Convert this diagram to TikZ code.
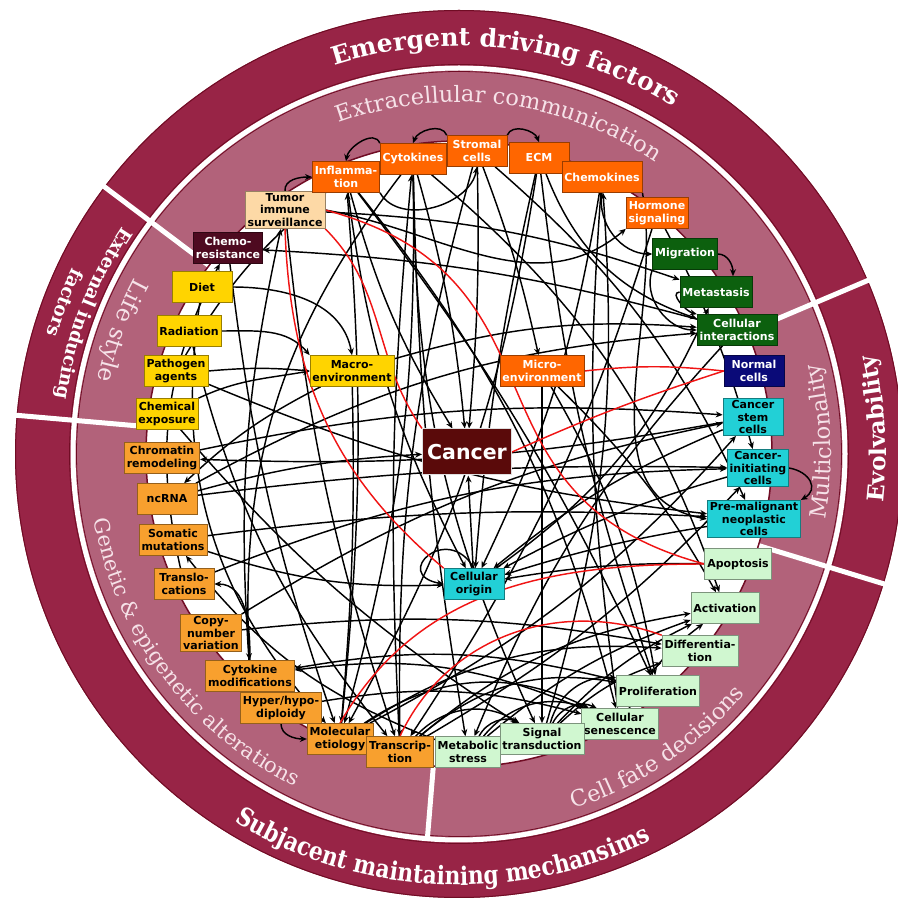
\documentclass[tikz,border=0pt]{standalone}
\usepackage{fontspec}
\setmainfont{DejaVu Serif}
\newfontfamily\condserif{DejaVu Serif}[FakeStretch=0.85]
\newfontfamily\boxfont{DejaVu Sans}
\usetikzlibrary{arrows.meta,decorations.text}
\definecolor{ringdark}{RGB}{152,36,70}
\definecolor{ringlight}{RGB}{178,98,122}
\definecolor{ringedge}{RGB}{112,12,36}
\definecolor{ringtext}{RGB}{246,226,232}
\definecolor{cOrange}{RGB}{255,102,0}
\definecolor{cPeach}{RGB}{253,217,166}
\definecolor{cMaroon}{RGB}{78,10,32}
\definecolor{cYellow}{RGB}{255,212,0}
\definecolor{cAmber}{RGB}{248,160,46}
\definecolor{cMint}{RGB}{208,247,208}
\definecolor{cCyan}{RGB}{34,208,214}
\definecolor{cNavy}{RGB}{10,10,120}
\definecolor{cGreen}{RGB}{12,96,14}
\definecolor{cCancer}{RGB}{90,10,10}
\definecolor{redline}{RGB}{240,20,20}
\pgfdeclarelayer{bg}
\pgfdeclarelayer{edges}
\pgfsetlayers{bg,edges,main}
\begin{document}
\begin{tikzpicture}[x=1pt,y=1pt,
  box/.style={draw=#1!60!black, line width=0.6pt, fill=#1, inner xsep=2.5pt, inner ysep=2pt,
    minimum width=60pt, minimum height=31pt, align=center,
    font=\boxfont\bfseries\fontsize{11}{12.5}\selectfont},
  orng/.style={box=cOrange, text=white},
  peach/.style={box=cPeach, text=black},
  maroon/.style={box=cMaroon, text=white},
  yel/.style={box=cYellow, text=black},
  amb/.style={box=cAmber, text=black},
  mint/.style={box=cMint, text=black},
  cyn/.style={box=cCyan, text=black},
  navy/.style={box=cNavy, text=white},
  grn/.style={box=cGreen, text=white},
  e/.style={draw=black, line width=1.45pt, -{Stealth[length=7pt,width=6pt]}},
  inh/.style={draw=redline, line width=1.45pt},
  arctext/.style={decorate, decoration={text along path, text align=center, text={#1}}}
]
\coordinate (C) at (459,444);
\begin{pgfonlayer}{bg}
\clip (0,0) rectangle (898,898);
\fill[white] (0,0) rectangle (898,898);
\fill[ringdark] (C) circle[radius=444pt];
\draw[ringedge, line width=1pt] (C) circle[radius=443.5pt];
\fill[ringlight] (C) circle[radius=386pt];
\draw[white, line width=5pt] (C) circle[radius=386pt];
\draw[ringedge, line width=0.8pt] (C) circle[radius=382.5pt];
\draw[ringedge, line width=0.8pt] (C) circle[radius=389.5pt];
\fill[white] (C) circle[radius=313pt];
\draw[ringedge, line width=1.5pt] (C) circle[radius=313pt];
\foreach \a in {143,175,23,-17}
  \draw[white, line width=5pt] ([shift={(\a:314pt)}]C) -- ([shift={(\a:452pt)}]C);
\draw[white, line width=5pt] ([shift={(-94.7:314pt)}]C) -- ([shift={(-94.7:386pt)}]C);
% ring texts
\path[arctext={|\color{white}\fontsize{25}{30}\selectfont\bfseries|Emergent driving factors}]
  ([shift={(140:408pt)}]C) arc[start angle=140, end angle=26, radius=408pt];
\path[arctext={|\color{ringtext}\fontsize{22.5}{26}\selectfont|Extracellular communication}]
  ([shift={(140:352pt)}]C) arc[start angle=140, end angle=26, radius=352pt];
\path[arctext={|\color{white}\fontsize{18.5}{22}\selectfont\bfseries|External inducing}]
  ([shift={(130:406pt)}]C) arc[start angle=130, end angle=188, radius=406pt];
\path[arctext={|\color{white}\fontsize{18.5}{22}\selectfont\bfseries|factors}]
  ([shift={(130:429pt)}]C) arc[start angle=130, end angle=188, radius=429pt];
\path[arctext={|\color{ringtext}\fontsize{23.5}{28}\selectfont|Life style}]
  ([shift={(120:369pt)}]C) arc[start angle=120, end angle=200, radius=369pt];
\path[arctext={|\color{ringtext}\fontsize{21}{25}\selectfont|Genetic {\&} epigenetic alterations}]
  ([shift={(170:371pt)}]C) arc[start angle=170, end angle=264, radius=371pt];
\path[arctext={|\color{ringtext}\fontsize{22.5}{26}\selectfont|Cell fate decisions}]
  ([shift={(270:373pt)}]C) arc[start angle=270, end angle=338, radius=373pt];
\path[arctext={|\color{ringtext}\fontsize{22.5}{26}\selectfont|Multiclonality}]
  ([shift={(-40:372pt)}]C) arc[start angle=-40, end angle=44, radius=372pt];
\path[arctext={|\color{white}\fontsize{23}{28}\selectfont\bfseries|Evolvability}]
  ([shift={(-40:427pt)}]C) arc[start angle=-40, end angle=47, radius=427pt];
\path[arctext={|\color{white}\condserif\fontsize{25.5}{30}\selectfont\bfseries|Subjacent maintaining mechansims}]
  ([shift={(210:431pt)}]C) arc[start angle=210, end angle=325, radius=431pt];
\end{pgfonlayer}

% nodes
\node[peach] (tis) at (285,688) {Tumor\\immune\\surveillance};
\node[maroon] (crs) at (228,650) {Chemo-\\resistance};
\node[orng] (inf) at (346,721) {Inflamma-\\tion};
\node[orng] (cyt) at (413,739) {Cytokines};
\node[orng] (str) at (477,747) {Stromal\\cells};
\node[orng] (ecm) at (539,740) {ECM};
\node[orng] (che) at (602,721) {Chemokines};
\node[orng] (hor) at (657,685) {Hormone\\signaling};
\node[grn] (mig) at (685,644) {Migration};
\node[grn] (met) at (716,606) {Metastasis};
\node[grn] (cei) at (737,568) {Cellular\\interactions};
\node[navy] (nor) at (754,527) {Normal\\cells};
\node[cyn] (csc) at (753,481) {Cancer\\stem\\cells};
\node[cyn] (cic) at (758,430) {Cancer-\\initiating\\cells};
\node[cyn] (pre) at (754,379) {Pre-malignant\\neoplastic\\cells};
\node[mint] (apo) at (738,334) {Apoptosis};
\node[mint] (act) at (725,290) {Activation};
\node[mint] (dif) at (700,247) {Differentia-\\tion};
\node[mint] (pro) at (658,207) {Proliferation};
\node[mint] (sen) at (620,174) {Cellular\\senescence};
\node[mint] (sig) at (542,159) {Signal\\transduction};
\node[amb] (hyp) at (281,190) {Hyper/hypo-\\diploidy};
\node[amb] (mol) at (340,159) {Molecular\\etiology};
\node[amb] (tra) at (400,146) {Transcrip-\\tion};
\node[mint] (mst) at (468,146) {Metabolic\\stress};
\node[amb] (cmo) at (250,222) {Cytokine\\modifications};
\node[amb] (cnv) at (211,265) {Copy-\\number\\variation};
\node[amb] (trl) at (184,314) {Translo-\\cations};
\node[amb] (som) at (173,358) {Somatic\\mutations};
\node[amb] (ncr) at (167,399) {ncRNA};
\node[amb] (chr) at (162,440) {Chromatin\\remodeling};
\node[yel] (cex) at (167,484) {Chemical\\exposure};
\node[yel] (pat) at (176,527) {Pathogen\\agents};
\node[yel] (rad) at (189,567) {Radiation};
\node[yel] (die) at (202,611) {Diet};
\node[yel] (mac) at (352,527) {Macro-\\environment};
\node[orng] (mic) at (542,527) {Micro-\\environment};
\node[cyn] (cor) at (474,314) {Cellular\\origin};
\node[draw=white!75!gray, line width=1pt, fill=cCancer, text=white,
  font=\boxfont\bfseries\fontsize{20.5}{24}\selectfont,
  minimum width=89pt, minimum height=46pt] (can) at (467,446) {Cancer};

\begin{pgfonlayer}{edges}
% rim loops
\draw[e] (tis.north) to[out=95,in=180] (inf.west);
\draw[e] (cyt.north west) to[out=110,in=80] (inf.north);
\draw[e] (str.north west) to[out=110,in=70] (cyt.north);
\draw[e] (str.north east) to[out=70,in=110] (ecm.north);
\draw[e] (mig.east) to[out=0,in=90] ([xshift=17pt]met.north);
\draw[e] (cic.east) to[out=-10,in=30,looseness=1.6] (pre.north east);
\draw[e] (hyp.south) to[out=-90,in=180] (mol.west);
\draw[e] (cor.north) to[out=120,in=170,looseness=4] (cor.west);
% top group
\draw[e] (inf) to[bend right=8] (can);
\draw[e] (inf.south east) to[out=-60,in=-100] (str.south);
\draw[e] (inf) to[bend left=12] (sen);
\draw[e] (inf) to[bend left=6] (pro);
\draw[e] (inf) to[bend right=10] (cor);
\draw[e] (cyt) to[bend left=5] (can);
\draw[e] (cyt) to[bend right=12] (sig);
\draw[e] (cyt) to[bend left=15] (act);
\draw[e] (cyt) to[bend right=20] (cmo);
\draw[e] (cyt) to[bend left=8] (mol);
\draw[e] (cyt) to[bend right=4] (mst);
\draw[e] (str) to[bend left=3] (can);
\draw[e] (str) to[bend left=12] (pre);
\draw[e] (str) to[bend right=8] (tra);
\draw[e] (str) to[bend left=4] (mic);
\draw[e] (ecm) to[bend right=25] (cei);
\draw[e] (ecm) to[bend right=6] (pro);
\draw[e] (ecm) to[bend left=10] (mol);
\draw[e] (ecm) to[bend right=4] (cor);
\draw[e] (che.south) to[out=-100,in=180] (mig.west);
\draw[e] (che) to[bend left=8] (cor);
\draw[e] (che) to[bend right=6] (sen);
\draw[e] (che.south east) to[out=-80,in=170] (pre.west);
\draw[e] (sig) to[bend right=10] (che);
\draw[e] (hor) to[bend left=6] (cic);
\draw[e] (hor) to[bend left=8] (tra);
\draw[e] (tis.east) to[out=-10,in=-140] (hor.south west);
% migration cluster
\draw[e] (mig.south west) to[out=-110,in=180] (cei.west);
\draw[e] (met.west) to[out=185,in=165] (cei.north west);
\draw[e] (tis) to[bend left=8] (met);
\draw[e] (cei) to[bend right=6] (crs);
\draw[e] (mac) to[bend left=10] (cei);
\draw[e] (ncr) to[bend left=12] (cei);
\draw[e] (cei) to[bend right=10] (mst);
\draw[e] (cor) to[bend right=15] (met);
% left cluster
\draw[e] (die.east) to[out=0,in=100] (mac.north);
\draw[e] (rad.east) to[out=0,in=130] (mac.north west);
\draw[e] (pat.east) to[out=5,in=175] (mac.west);
\draw[e] (cex.north east) to[out=25,in=190] (mac.west);
\draw[e] (pat) to[bend left=10] (inf);
\draw[e] (pat) to[bend right=8] (pre);
\draw[e] (die) to[bend right=25] (mol);
\draw[e] (rad) to[bend right=12] (tra);
\draw[e] (cex) to[bend right=8] (sig);
\draw[e] (chr) to[bend left=8] (csc);
\draw[e] (csc) to[bend left=6] (chr);
\draw[e] (ncr) to[bend left=6] (can);
\draw[e] (ncr) to[bend left=4] (cic);
\draw[e] (mac) to[bend right=8] (ncr);
\draw[e] (som) to[bend left=5] (pre);
\draw[e] (som) to[bend right=10] (cor);
\draw[e] (trl) to[bend left=10] (cic);
\draw[e] (trl) to[bend left=20] (crs);
\draw[e] (mst) to[bend left=15] (som);
\draw[e] (cnv) to[bend left=8] (dif);
\draw[e] (cnv) to[bend left=10] (csc);
\draw[e] (cmo.north) to[out=90,in=0] (trl.east);
\draw[e] (cmo) to[bend left=8] (tis);
\draw[e] (mol) to[bend right=5] (inf);
\draw[e] (hyp) to[bend left=12] (sen);
\draw[e] (mac) to[bend left=3] (mol);
\draw[e] (mol) to[bend right=10] (csc);
\draw[e] (tra) to[bend right=8] (cic);
\draw[e] (tra) to[bend left=4] (cyt);
\draw[e] (crs) to[bend right=6] (mol);
% bottom cluster
\draw[e] (mst) to[bend left=45] (sig);
\draw[e] (tra) to[bend left=40] (sig);
\draw[e] (mol) to[bend left=30] (sen);
\draw[e] (sig) to[bend left=40] (pro);
\draw[e] (sig) to[bend left=45] (sen);
\draw[e] (mst) to[bend left=35] (sen);
\draw[e] (tra) to[bend left=25] (pro);
\draw[e] (mst) to[bend left=10] (act);
\draw[e] (sig) to[bend left=10] (act);
\draw[e] (sen) to[bend left=12] (act);
\draw[e] (tra) to[bend left=15] (act);
\draw[e] (sig) to[bend left=12] (dif);
\draw[e] (mol) to[bend left=18] (dif);
\draw[e] (sen) to[bend right=15] (cmo);
\draw[e] (pro) to[bend right=12] (cmo);
\draw[e] (apo) to[bend right=5] (cor);
\draw[e] (pre) to[bend right=4] (cor);
\draw[e] (cic) to[bend right=6] (cor);
\draw[e] (csc) to[bend right=8] (cor);
\draw[e] (mic) -- (sig);
\draw[e] (mic) to[bend left=10] (pro);
\draw[e] (mic) to[bend left=8] (act);
\draw[e] (tis) to[bend right=6] (tra);
\draw[e] (cor) -- (can);
% inhibitory (red)
\draw[inh] (tis.south) to[out=-88,in=140] (cor.north west);
\draw[inh] (tis.east) to[out=-15,in=165,looseness=1.3] (apo.west);
\draw[inh] (tis.south east) to[out=-45,in=125] (can.north west);
\draw[inh] (mic.east) to[out=6,in=174] (nor.west);
\draw[inh] (can.east) to[bend left=3] (nor.west);
\draw[inh] (mol.north) to[out=60,in=180] (apo.west);
\draw[inh] (tra.north) to[out=65,in=160] (dif.north west);
\end{pgfonlayer}
\end{tikzpicture}
\end{document}
